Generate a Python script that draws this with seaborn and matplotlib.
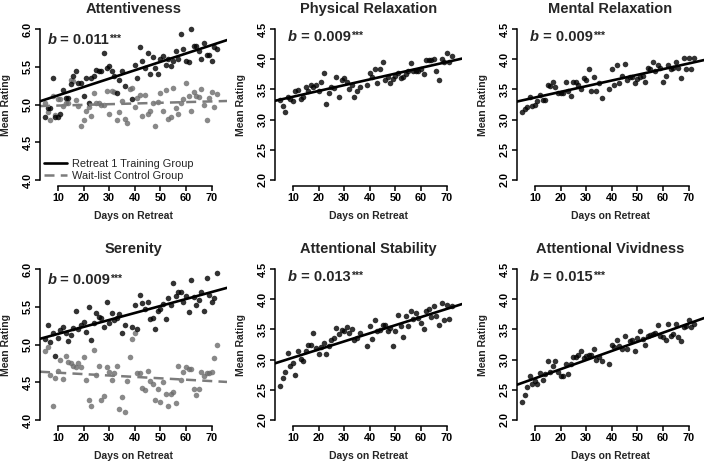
import numpy as np
import matplotlib
matplotlib.use("Agg")
import matplotlib.pyplot as plt
import seaborn as sns
from matplotlib.lines import Line2D

sns.set_style("ticks")
plt.rcParams["font.family"] = ["Liberation Sans", "DejaVu Sans"]

# days with ratings (training group has no data on days 37-38)
days_t = list(range(5, 37)) + list(range(39, 73))
days_c = list(range(5, 73))

# Attentiveness
att_t = [4.83, 4.95, 4.95, 5.35, 4.84, 4.84, 4.87, 5.19, 5.09, 5.09,
         5.27, 5.38, 5.44, 5.29, 5.28, 5.11, 5.35, 5.02, 5.35, 5.38,
         5.46, 5.44, 5.44, 5.68, 5.49, 5.51, 5.44, 5.38, 5.15, 5.32,
         5.44, 5.25,
         5.07, 5.53, 5.35, 5.76, 5.57, 5.49, 5.68, 5.41, 5.63, 5.49,
         5.41, 5.60, 5.64, 5.53, 5.60, 5.51, 5.58, 5.71, 5.60, 5.93,
         5.73, 5.57, 5.56, 6.00, 5.77, 5.77, 5.71, 5.60, 5.82, 5.66,
         5.65, 5.57, 5.76, 5.74]
att_c = [5.02, 4.90, 4.80, 5.11, 4.86, 5.07, 5.07, 4.98, 5.02, 5.02,
         5.32, 5.31, 5.06, 4.98, 4.72, 4.80, 4.91, 4.97, 4.85, 5.15,
         5.02, 5.02, 4.99, 4.99, 5.18, 4.87, 5.18, 5.16, 4.80, 4.90,
         5.05, 4.81, 4.75, 5.20, 5.22, 4.97, 5.08, 5.13, 4.85, 5.12,
         4.87, 4.91, 5.02, 4.71, 5.03, 5.15, 4.91, 5.19, 4.81, 4.83,
         5.22, 4.96, 4.88, 5.02, 5.07, 5.29, 5.11, 4.91, 5.16, 5.11,
         5.10, 5.20, 4.99, 4.80, 5.09, 5.16, 4.97, 5.14]

# Physical Relaxation
phys_t = [3.33, 3.22, 3.13, 3.38, 3.34, 3.30, 3.47, 3.49, 3.34, 3.37,
          3.54, 3.47, 3.58, 3.54, 3.58, 3.48, 3.62, 3.77, 3.26, 3.44,
          3.54, 3.52, 3.70, 3.38, 3.66, 3.69, 3.62, 3.50, 3.58, 3.38,
          3.47, 3.54,
          3.58, 3.78, 3.71, 3.83, 3.60, 3.84, 3.96, 3.65, 3.71, 3.60,
          3.67, 3.72, 3.78, 3.69, 3.71, 3.76, 3.80, 3.94, 3.80, 3.80,
          3.80, 3.83, 3.76, 3.98, 3.98, 3.98, 4.00, 3.81, 3.65, 4.00,
          3.96, 4.10, 3.95, 4.05]

# Mental Relaxation
ment_t = [3.13, 3.17, 3.21, 3.38, 3.22, 3.24, 3.30, 3.41, 3.33, 3.33,
          3.58, 3.56, 3.63, 3.54, 3.44, 3.44, 3.44, 3.62, 3.47, 3.39,
          3.63, 3.63, 3.58, 3.50, 3.69, 3.66, 3.84, 3.48, 3.70, 3.48,
          3.60, 3.36,
          3.50, 3.83, 3.58, 3.91, 3.60, 3.72, 3.92, 3.66, 3.71, 3.70,
          3.60, 3.67, 3.71, 3.72, 3.63, 3.85, 3.83, 3.96, 3.80, 3.91,
          3.85, 3.63, 3.72, 3.91, 3.83, 3.85, 3.96, 3.85, 3.69, 4.02,
          3.83, 4.02, 3.83, 4.02]

# Serenity
ser_t = [5.07, 5.26, 5.03, 5.15, 4.85, 5.09, 5.19, 5.23, 5.15, 5.05,
         5.13, 5.22, 5.44, 5.21, 5.26, 5.30, 5.16, 5.50, 5.06, 5.28,
         5.42, 5.37, 5.35, 5.23, 5.56, 5.28, 5.42, 5.33, 5.35, 5.40,
         5.15, 5.26,
         5.23, 5.52, 5.21, 5.65, 5.55, 5.47, 5.56, 5.34, 5.35, 5.21,
         5.44, 5.47, 5.54, 5.34, 5.62, 5.52, 5.81, 5.64, 5.70, 5.70,
         5.56, 5.64, 5.43, 5.86, 5.63, 5.53, 5.59, 5.70, 5.45, 5.88,
         5.66, 5.56, 5.62, 5.95]
ser_c = [4.91, 4.97, 4.60, 4.18, 4.56, 4.65, 4.80, 4.54, 4.85, 4.77,
         4.75, 4.72, 4.70, 4.75, 4.70, 4.84, 4.53, 4.27, 4.19, 4.93,
         4.59, 4.72, 4.26, 4.32, 4.70, 4.63, 4.53, 4.62, 4.71, 4.14,
         4.30, 4.10, 4.52, 4.84, 5.07, 5.15, 4.62, 4.62, 4.43, 4.40,
         4.65, 4.52, 4.48, 4.26, 4.41, 4.24, 4.50, 4.35, 4.19, 4.34,
         4.37, 4.23, 4.72, 4.53, 4.63, 4.70, 4.68, 4.67, 4.41, 4.33,
         4.41, 4.63, 4.58, 4.62, 4.62, 4.63, 4.82, 4.99]

# Attentional Stability
stab_t = [2.56, 2.69, 2.80, 3.11, 2.90, 2.95, 2.75, 3.15, 3.01, 2.98,
          3.15, 3.24, 3.24, 3.44, 3.19, 3.10, 3.21, 3.28, 3.10, 3.22,
          3.33, 3.36, 3.52, 3.43, 3.49, 3.48, 3.54, 3.44, 3.50, 3.33,
          3.36, 3.44,
          3.23, 3.55, 3.34, 3.66, 3.47, 3.49, 3.58, 3.58, 3.47, 3.52,
          3.22, 3.47, 3.74, 3.56, 3.37, 3.73, 3.55, 3.80, 3.67, 3.77,
          3.69, 3.61, 3.50, 3.80, 3.84, 3.70, 3.88, 3.73, 3.58, 3.94,
          3.66, 3.91, 3.67, 3.88]

# Attentional Vividness
viv_t = [2.29, 2.41, 2.54, 2.72, 2.60, 2.65, 2.60, 2.77, 2.67, 2.76,
         2.97, 2.80, 2.89, 2.97, 2.80, 2.72, 2.72, 2.93, 2.76, 2.93,
         3.04, 3.04, 3.08, 3.15, 3.02, 3.06, 3.08, 3.08, 3.17, 3.00,
         3.04, 2.97,
         2.93, 3.24, 3.21, 3.32, 3.23, 3.17, 3.39, 3.17, 3.30, 3.33,
         3.15, 3.36, 3.48, 3.34, 3.24, 3.39, 3.41, 3.43, 3.44, 3.58,
         3.39, 3.37, 3.33, 3.59, 3.39, 3.43, 3.59, 3.37, 3.30, 3.54,
         3.55, 3.65, 3.54, 3.59]

titles = ["Attentiveness", "Physical Relaxation", "Mental Relaxation",
          "Serenity", "Attentional Stability", "Attentional Vividness"]
train = [att_t, phys_t, ment_t, ser_t, stab_t, viv_t]
control = [att_c, None, None, ser_c, None, None]
slopes = ["0.011", "0.009", "0.009", "0.009", "0.013", "0.015"]
yranges = [(4.0, 6.0), (2.0, 4.5), (2.0, 4.5), (4.0, 6.0), (2.0, 4.5), (2.0, 4.5)]
xticks = [10, 20, 30, 40, 50, 60, 70]

W, H = 709, 462
fig = plt.figure(figsize=(W / 100, H / 100), dpi=100)
lefts = [40, 275, 517]
bottoms = [186, 426]
pw, ph = 187, 163

for i in range(6):
    r, c = divmod(i, 3)
    ax = fig.add_axes([lefts[c] / W, 1 - bottoms[r] / H, pw / W, ph / H])
    ylo, yhi = yranges[i]
    ext = 0.04 * (yhi - ylo)
    ax.set_xlim(3, 76)
    ax.set_ylim(ylo - ext, yhi + ext)

    if control[i] is not None:
        sns.regplot(x=days_c, y=control[i], ax=ax, ci=None, truncate=False,
                    scatter_kws=dict(s=16, color="#6c6c6c", linewidths=0),
                    line_kws=dict(color="#7c7c7c", lw=1.8, dashes=(4, 2.5)))
    sns.regplot(x=days_t, y=train[i], ax=ax, ci=None, truncate=False,
                scatter_kws=dict(s=16, color="black", linewidths=0),
                line_kws=dict(color="black", lw=1.9))

    ax.set_xlim(3, 76)
    ax.set_ylim(ylo - ext, yhi + ext)
    yt = np.arange(ylo, yhi + 0.01, 0.5)
    ax.set_xticks(xticks)
    ax.set_xticklabels([str(v) for v in xticks], fontweight="bold", fontsize=7.8)
    ax.set_yticks(yt)
    ax.set_yticklabels([f"{v:.1f}" for v in yt], rotation=90, va="center",
                       fontweight="bold", fontsize=7.8)
    sns.despine(ax=ax)
    for side in ["left", "bottom"]:
        ax.spines[side].set_linewidth(1.1)
        ax.spines[side].set_color("black")
    ax.spines["left"].set_bounds(ylo, yhi)
    ax.spines["bottom"].set_bounds(10, 70)
    ax.tick_params(direction="out", length=3.5, width=1.1, pad=1.5, colors="black")

    ax.set_xlabel("Days on Retreat", fontweight="bold", fontsize=7.5, labelpad=6)
    ax.set_ylabel("Mean Rating", fontweight="bold", fontsize=7.5, labelpad=9)
    ax.set_title(titles[i], fontweight="bold", fontsize=10.5, pad=7)

    # slope annotation: italic b, value, superscript stars
    tx = 0.04 if c == 0 else 0.07
    ty = 0.85 if c == 0 else 0.87
    t1 = ax.text(tx, ty, "b", transform=ax.transAxes, fontsize=10.5,
                 fontweight="bold", fontstyle="italic", va="bottom")
    t2 = ax.annotate(" = " + slopes[i], xy=(1, 0), xycoords=t1, fontsize=10.5,
                     fontweight="bold", va="bottom", ha="left")
    ax.annotate("***", xy=(1, 0.95), xycoords=t2, fontsize=7.5,
                fontweight="bold", va="top", ha="left")

    if i == 0:
        handles = [Line2D([], [], color="black", lw=1.9),
                   Line2D([], [], color="#7c7c7c", lw=1.8, dashes=(4, 2.5))]
        ax.legend(handles, ["Retreat 1 Training Group", "Wait-list Control Group"],
                  loc="lower left", bbox_to_anchor=(0.02, 0.03), frameon=False,
                  fontsize=7.9, handlelength=2.1, handletextpad=0.5,
                  labelspacing=0.2, borderpad=0, borderaxespad=0)

fig.savefig("out.png", dpi=100)
